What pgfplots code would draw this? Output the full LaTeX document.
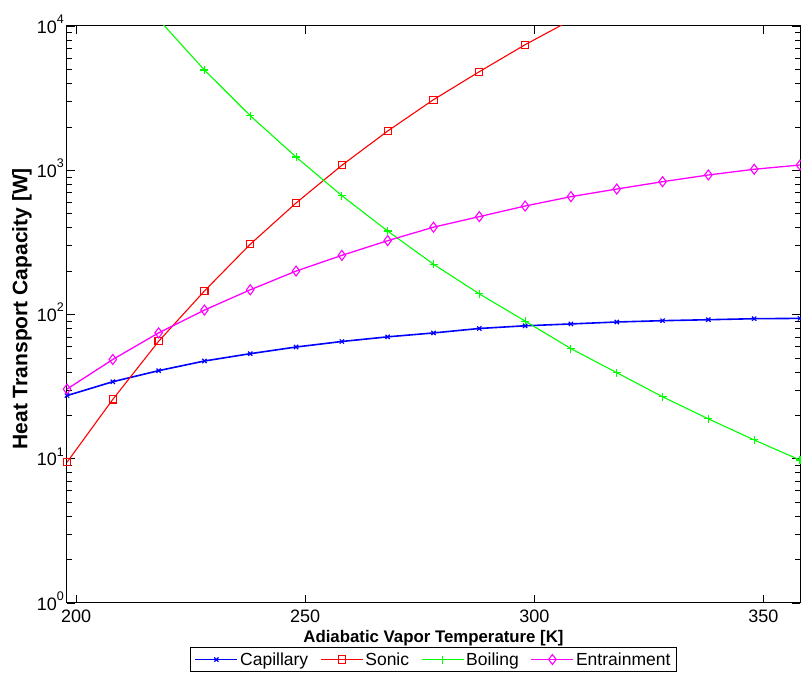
\documentclass[border=0pt]{standalone}
\usepackage{fontspec}
\setmainfont{Liberation Sans}
\usepackage{pgfplots}
\pgfplotsset{compat=1.18}
\usetikzlibrary{calc}

\definecolor{mblue}{rgb}{0,0,1}
\definecolor{mred}{rgb}{1,0,0}
\definecolor{mgreen}{rgb}{0,1,0}
\definecolor{mmagenta}{rgb}{1,0,1}

% MATLAB-like log tick label: 10 with raised exponent, in text font
\newcommand{\ex}[1]{10\raisebox{0.55em}{\fontsize{12.5}{13}\selectfont #1}}

\begin{document}
\begin{tikzpicture}
\begin{axis}[
  width=733pt, height=577pt, scale only axis,
  ymode=log,
  xmin=198, xmax=358, ymin=1, ymax=10000,
  xtick={200,250,300,350}, xticklabels={200,250,300,350},
  ytick={1,10,100,1000,10000},
  yticklabels={\ex{0},\ex{1},\ex{2},\ex{3},\ex{4}},
  tick align=inside, tick pos=both,
  major tick length=8pt, minor tick length=5pt,
  every tick/.style={black, line width=0.6pt},
  axis line style={line width=1pt},
  font=\fontsize{18}{20}\selectfont,
  xticklabel style={anchor=north, inner sep=0pt, yshift=-7pt},
  yticklabel style={anchor=east, inner sep=0pt, xshift=-3pt, yshift=2pt},
  xlabel={\bfseries Adiabatic Vapor Temperature [K]},
  ylabel={\bfseries Heat Transport Capacity [W]},
  xlabel style={at={(axis description cs:0.5,-0.0607)}, anchor=center,
    inner sep=0pt, font=\fontsize{16.8}{18}\selectfont},
  ylabel style={at={(axis description cs:-0.0614,0.51)}, anchor=center,
    inner sep=0pt, font=\fontsize{21}{22}\selectfont},
  legend columns=4,
  legend style={at={(axis description cs:0.5,-0.098)}, anchor=center,
    draw=black, line width=0.8pt, fill=white,
    inner xsep=4pt, inner ysep=3pt,
    font=\fontsize{17.5}{20}\selectfont,
    /tikz/every even column/.append style={column sep=10pt},
    cells={anchor=west}},
  legend image code/.code={\draw[mark repeat=2,mark phase=2,#1]
    plot coordinates {(0pt,0pt) (21pt,0pt) (42pt,0pt)};},
]
\addplot[color=mblue, line width=1.6pt, mark=x, mark size=3pt,
  mark options={solid, line width=1.2pt}] coordinates {
  (198,27.4) (208,34.2) (218,40.8) (228,47.6) (238,53.5) (248,59.5)
  (258,65) (268,70) (278,74.5) (288,80) (298,83.5) (308,86)
  (318,88.7) (328,90.6) (338,92) (348,93.5) (358,94)};
\addlegendentry{Capillary}

\addplot[color=mred, line width=1.1pt, mark=square, mark size=3.6pt,
  mark options={solid, line width=1.1pt}] coordinates {
  (198,9.45) (208,25.8) (218,65.2) (228,145.5) (238,307) (248,593)
  (258,1082) (268,1871) (278,3084) (288,4822) (298,7418) (308,11000)};
\addlegendentry{Sonic}

\addplot[color=mgreen, line width=1.1pt, mark=+, mark size=4pt,
  mark options={solid, line width=1.1pt}] coordinates {
  (218,11100) (228,4955) (238,2388) (248,1236) (258,666) (268,379)
  (278,223) (288,139) (298,90) (308,58) (318,39.5) (328,26.9)
  (338,18.9) (348,13.5) (358,9.8)};
\addlegendentry{Boiling}

\addplot[color=mmagenta, line width=1.3pt, mark=diamond, mark size=5pt,
  mark options={solid, line width=1.1pt}] coordinates {
  (198,30.4) (208,48.8) (218,74.6) (228,107.3) (238,148.3) (248,200)
  (258,257) (268,325) (278,403) (288,477) (298,565) (308,656)
  (318,741) (328,833) (338,927) (348,1016) (358,1087)};
\addlegendentry{Entrainment}

\coordinate (bl) at (rel axis cs:0,0);
\coordinate (tr) at (rel axis cs:1,1);
\end{axis}
\pgfresetboundingbox
\path ($(bl)+(-67pt,-72pt)$) rectangle ($(tr)+(1pt,26pt)$);
\end{tikzpicture}
\end{document}
